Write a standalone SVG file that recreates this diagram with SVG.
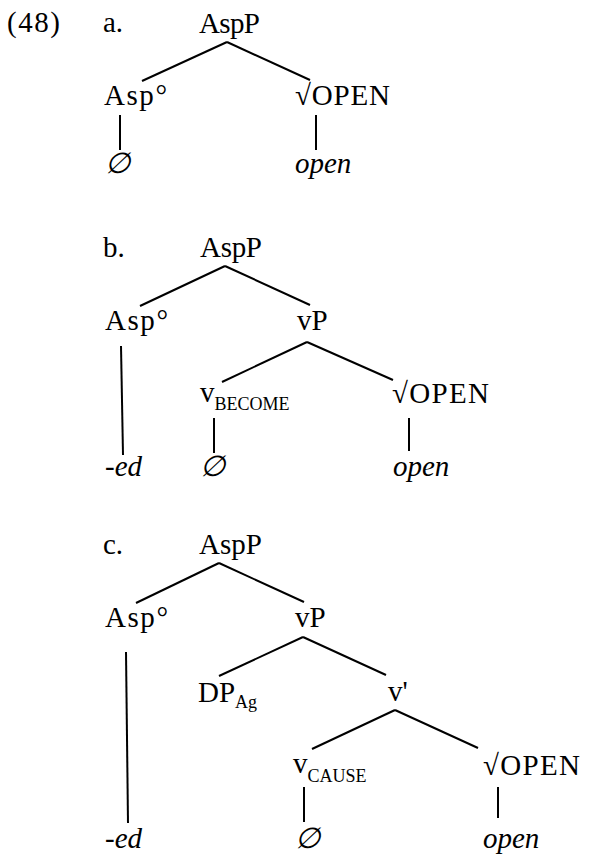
<svg xmlns="http://www.w3.org/2000/svg" width="589" height="856" viewBox="0 0 589 856">
<style>
text{font-family:"Liberation Serif","Times New Roman",serif;font-size:29px;fill:#000}
.it{font-style:italic}
.sub{font-size:18px}
line{stroke:#000;stroke-width:2;stroke-linecap:butt}
</style>
<rect width="589" height="856" fill="#fff"/>
<text x="7" y="32" textLength="53">(48)</text>
<g id="a">
<text x="103" y="32">a.</text>
<g id="a-AspP"><text x="199" y="33" textLength="61">AspP</text></g>
<g id="a-Asp"><text x="104" y="105" textLength="63">Asp°</text></g>
<g id="a-OPEN"><text x="295" y="105" textLength="95">√OPEN</text></g>
<g id="a-null"><text class="it" x="105" y="173">∅</text></g>
<g id="a-open"><text class="it" x="295" y="173">open</text></g>
<g id="a-edges">
<line x1="227" y1="42" x2="142" y2="81"/>
<line x1="227" y1="42" x2="310" y2="80"/>
<line x1="120" y1="115" x2="120" y2="150"/>
<line x1="316" y1="115" x2="316" y2="150"/>
</g>
</g>
<g id="b">
<text x="103" y="257">b.</text>
<g id="b-AspP"><text x="200" y="257" textLength="62">AspP</text></g>
<g id="b-Asp"><text x="105" y="330" textLength="63">Asp°</text></g>
<g id="b-vP"><text x="297" y="330">vP</text></g>
<g id="b-v"><text x="200" y="402">v<tspan class="sub" dy="8">BECOME</tspan></text></g>
<g id="b-OPEN"><text x="392" y="403" textLength="97">√OPEN</text></g>
<g id="b-ed"><text class="it" x="105" y="476">-ed</text></g>
<g id="b-null"><text class="it" x="200" y="476">∅</text></g>
<g id="b-open"><text class="it" x="393" y="476">open</text></g>
<g id="b-edges">
<line x1="225" y1="266" x2="140" y2="306"/>
<line x1="225" y1="266" x2="310" y2="305"/>
<line x1="121" y1="346" x2="123" y2="455"/>
<line x1="307" y1="342" x2="222" y2="382"/>
<line x1="307" y1="342" x2="393" y2="380"/>
<line x1="214" y1="418" x2="214" y2="453"/>
<line x1="409" y1="418" x2="409" y2="451"/>
</g>
</g>
<g id="c">
<text x="103" y="554">c.</text>
<g id="c-AspP"><text x="199" y="554" textLength="63">AspP</text></g>
<g id="c-Asp"><text x="105" y="627" textLength="63">Asp°</text></g>
<g id="c-vP"><text x="295" y="627">vP</text></g>
<g id="c-DP"><text x="198" y="702">DP<tspan class="sub" dy="6">Ag</tspan></text></g>
<g id="c-vbar"><text x="388" y="701">v'</text></g>
<g id="c-v"><text x="293" y="773">v<tspan class="sub" dy="9">CAUSE</tspan></text></g>
<g id="c-OPEN"><text x="483" y="775" textLength="97">√OPEN</text></g>
<g id="c-ed"><text class="it" x="105" y="848">-ed</text></g>
<g id="c-null"><text class="it" x="295" y="848">∅</text></g>
<g id="c-open"><text class="it" x="483" y="848">open</text></g>
<g id="c-edges">
<line x1="219" y1="563" x2="136" y2="603"/>
<line x1="219" y1="563" x2="304" y2="602"/>
<line x1="126" y1="652" x2="128" y2="823"/>
<line x1="303" y1="637" x2="219" y2="676"/>
<line x1="303" y1="637" x2="386" y2="675"/>
<line x1="395" y1="710" x2="312" y2="749"/>
<line x1="395" y1="710" x2="478" y2="748"/>
<line x1="304" y1="787" x2="304" y2="822"/>
<line x1="498" y1="787" x2="498" y2="818"/>
</g>
</g>
</svg>
